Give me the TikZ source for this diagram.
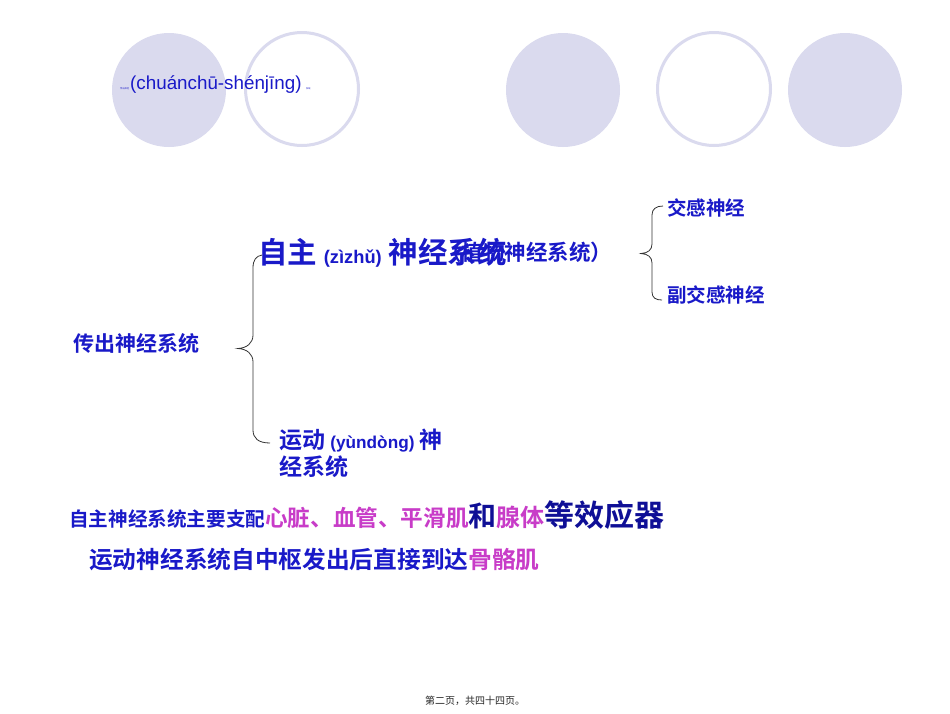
\documentclass[tikz,border=0pt]{standalone}
\usepackage{fontspec}
\setmainfont{Noto Sans CJK SC}[BoldFont={Noto Sans CJK SC Bold}]
\newfontfamily\pyfont{Liberation Sans}
\definecolor{circfill}{RGB}{218,218,238}
\definecolor{textblue}{RGB}{25,25,200}
\definecolor{darkblue}{RGB}{15,15,150}
\definecolor{pinkish}{RGB}{200,60,200}

\begin{document}
\begin{tikzpicture}[x=1pt,y=-1pt,
        label/.style={inner sep=0pt,anchor=base west,text=textblue,font=\bfseries},
        brace/.style={draw=black!80,line width=0.8pt}]
    \useasboundingbox[fill=white] (0,0) rectangle (950,713);
    % row of circles along the top
    \foreach \cx/\filled[count=\i] in {169/1,302/0,563/1,714/0,845/1}{
        \ifnum\filled=1
            \fill[circfill] (\cx,90) circle (57pt);
        \else
            \draw[circfill,line width=3pt] (\cx,89) circle (56.5pt);
        \fi
    }
    \node[label,font=\normalfont] (tinyl) at (120,89) {\fontsize{2.2}{3}\selectfont 传出神经};
    \node[label,font=\pyfont] (title) at (130,89) {\fontsize{18.8}{20}\selectfont (chuánchū-shénjīng)};
    \node[label,font=\normalfont] (tinyr) at (306,89) {\fontsize{2.2}{3}\selectfont 系统};

    \node[label] (efferent) at (73,351) {\fontsize{21}{24}\selectfont 传出神经系统};
    \node[label] (veg) at (440,260.5) {\fontsize{21.5}{24}\selectfont （植物神经系统）};
    \node[label] (auto) at (258,263.5) {\fontsize{29.5}{32}\selectfont 自主 {\pyfont\fontsize{18.3}{20}\selectfont (zìzhǔ)} 神经系统};
    \node[label] (symp) at (667,215.5) {\fontsize{19.5}{22}\selectfont 交感神经};
    \node[label] (parasymp) at (667,302.5) {\fontsize{19.5}{22}\selectfont 副交感神经};
    \node[label] (motor) at (279,448.7) {\fontsize{23}{26}\selectfont 运动 {\pyfont\fontsize{17.2}{20}\selectfont (yùndòng)} 神};
    \node[label] (motor2) at (279,475.7) {\fontsize{23}{26}\selectfont 经系统};

    % braces
    \coordinate (ltip) at (238,348.5);
    \coordinate (rtip) at (641,253.5);
    \draw[brace] (262,255) .. controls (256,256) and (253,260) .. (253,268) -- (253,335)
        .. controls (253,343) and (247,348) .. (ltip)
        .. controls (247,349) and (253,354) .. (253,362) -- (253,430)
        .. controls (253,438) and (258,443) .. (270,443);
    \draw[brace] (663,206) .. controls (656,206) and (652,209) .. (652,215) -- (652,244)
        .. controls (652,250) and (648,253) .. (rtip)
        .. controls (648,254) and (652,257) .. (652,263) -- (652,292)
        .. controls (652,298) and (656,300) .. (662,300);

    % two lines of notes
    \node[label] (lineA) at (69,526) {\fontsize{19.6}{22}\selectfont 自主神经系统主要支配%
        \textcolor{pinkish}{\fontsize{22.6}{24}\selectfont 心脏、血管、平滑肌}%
        \textcolor{darkblue}{\fontsize{28}{30}\selectfont 和}%
        \textcolor{pinkish}{\fontsize{24}{26}\selectfont 腺体}%
        \textcolor{darkblue}{\fontsize{30}{32}\selectfont 等效应器}};
    \node[label] (lineB) at (89,568) {\fontsize{23.7}{26}\selectfont 运动神经系统自中枢发出后直接到达\textcolor{pinkish}{骨骼肌}};

    \node[label,font=\normalfont,text=black!85] (page) at (425,704) {\fontsize{10}{12}\selectfont 第二页，共四十四页。};
\end{tikzpicture}
\end{document}
